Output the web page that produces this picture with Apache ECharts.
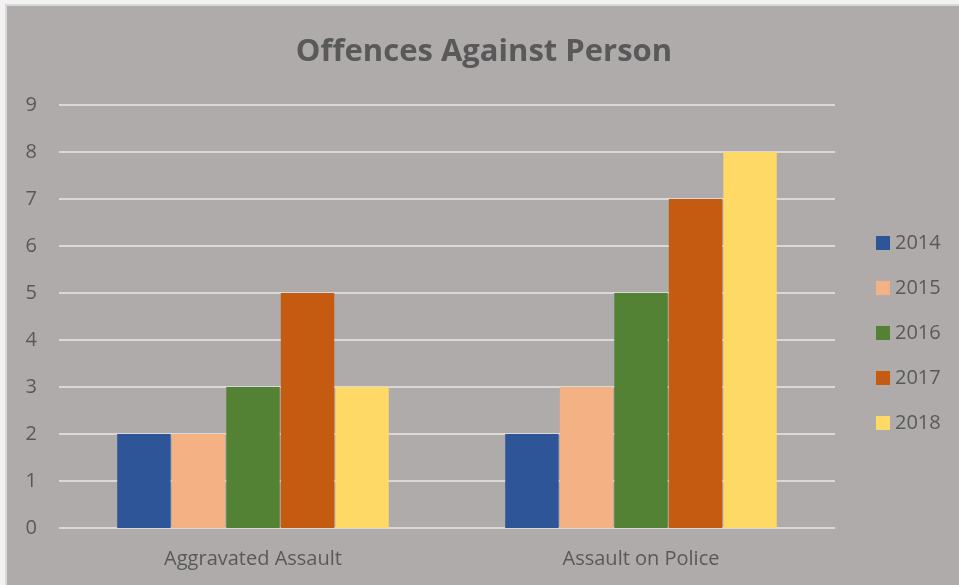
<!DOCTYPE html>
<html>
<head>
<meta charset="utf-8">
<script src="https://cdn.jsdelivr.net/npm/echarts@6/dist/echarts.min.js"></script>
<style>
  html, body { margin: 0; padding: 0; background: #f2f2f2; }
  .frame {
    position: absolute;
    left: 5px;
    top: 4px;
    width: 954px;
    height: 581px;
    border-left: 2px solid #d9d9d9;
    border-top: 2px solid #d9d9d9;
    background: #afabab;
  }
  #chart { width: 954px; height: 581px; }
</style>
</head>
<body>
<div class="frame"><div id="chart"></div></div>
<script>
// chart data
const categories = ['Aggravated Assault', 'Assault on Police'];
const years = ['2014', '2015', '2016', '2017', '2018'];
const values2014 = [2, 2];
const values2015 = [2, 3];
const values2016 = [3, 5];
const values2017 = [5, 7];
const values2018 = [3, 8];
const yTicks = [0, 1, 2, 3, 4, 5, 6, 7, 8, 9];

const colors = ['#2e5597', '#f4b183', '#548235', '#c55a11', '#ffd966'];
const allValues = [values2014, values2015, values2016, values2017, values2018];

const myChart = echarts.init(document.getElementById('chart'));

const option = {
  backgroundColor: '#afabab',
  color: colors,
  textStyle: { fontFamily: '"Open Sans", sans-serif' },
  title: {
    text: 'Offences Against Person',
    left: 'center',
    top: 26,
    textStyle: { color: '#595959', fontSize: 31, fontWeight: 'bold' }
  },
  legend: {
    orient: 'vertical',
    left: 864,
    top: 222,
    itemWidth: 14,
    itemHeight: 14,
    itemGap: 25,
    icon: 'rect',
    textStyle: { color: '#595959', fontSize: 20, lineHeight: 20 },
    data: years
  },
  grid: { left: 52, right: 126, top: 99, bottom: 59 },
  xAxis: {
    type: 'category',
    data: categories,
    axisLine: { show: false },
    axisTick: { show: false },
    axisLabel: { color: '#595959', fontSize: 20, margin: 21 }
  },
  yAxis: {
    type: 'value',
    min: yTicks[0],
    max: yTicks[yTicks.length - 1],
    interval: 1,
    axisLine: { show: false },
    axisTick: { show: false },
    axisLabel: { color: '#595959', fontSize: 20, margin: 22 },
    splitLine: { lineStyle: { color: '#d9d9d9', width: 2 } }
  },
  series: years.map((y, i) => ({
    name: y,
    type: 'bar',
    data: allValues[i],
    barGap: '2%',
    barCategoryGap: '30%',
    itemStyle: { color: colors[i] }
  }))
};

myChart.setOption(option);
</script>
</body>
</html>
